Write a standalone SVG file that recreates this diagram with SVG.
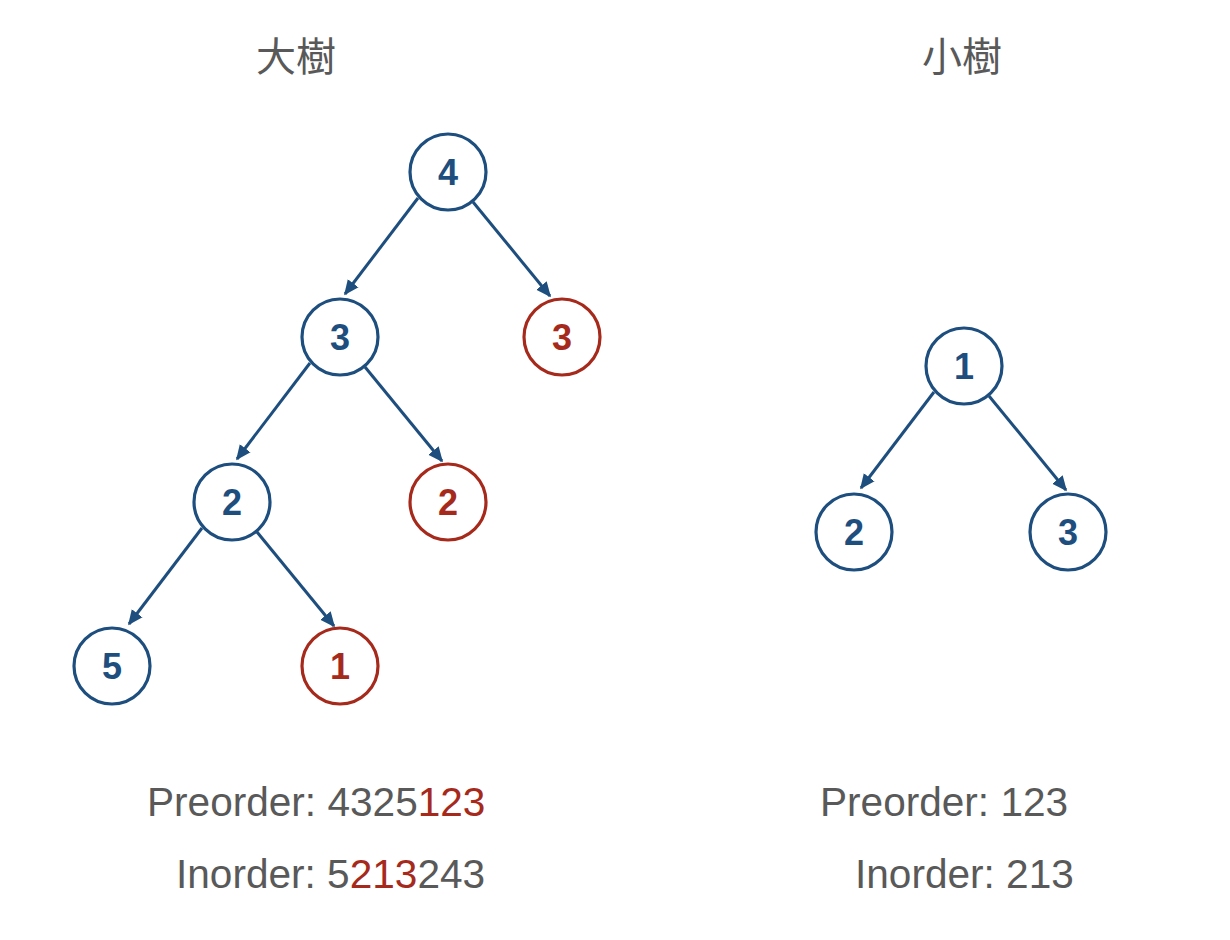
<svg xmlns="http://www.w3.org/2000/svg" width="1230" height="940" viewBox="0 0 1230 940">
<defs>
<marker id="arr" viewBox="0 0 10 10" refX="9" refY="5" markerWidth="5" markerHeight="5" markerUnits="strokeWidth" orient="auto">
<path d="M0,0.5 L10,5 L0,9.5 Z" fill="#1d4e7e"/>
</marker>
<style>
.n circle{fill:#fff;stroke-width:3.2}
.b circle{stroke:#1d4e7e}
.r circle{stroke:#a62a1c}
.n text{font-family:"Liberation Sans",Arial,sans-serif;font-weight:bold;font-size:36px;text-anchor:middle}
.b text{fill:#1d4e7e}
.r text{fill:#a62a1c}
.t{font-family:"Liberation Sans","Noto Sans CJK TC",sans-serif;font-size:40.6px;fill:#595959}
.c{font-family:"Noto Sans CJK TC",sans-serif;font-size:40px;fill:#595959;text-anchor:middle}
.red{fill:#a62a1c}
#edges line{stroke:#1d4e7e;stroke-width:3;marker-end:url(#arr)}
</style>
</defs>
<rect width="1230" height="940" fill="#fff"/>
<text class="c" x="296" y="71">大樹</text>
<text class="c" x="962" y="71">小樹</text>
<g id="edges">
<line x1="418" y1="198" x2="345" y2="294"/>
<line x1="473" y1="202" x2="550" y2="296"/>
<line x1="310" y1="363" x2="237" y2="459"/>
<line x1="365" y1="367" x2="442" y2="461"/>
<line x1="202" y1="528" x2="129" y2="624"/>
<line x1="257" y1="532" x2="334" y2="626"/>
<line x1="934" y1="392" x2="861" y2="488"/>
<line x1="989" y1="396" x2="1066" y2="490"/>
</g>
<g id="n4" class="n b"><circle cx="448" cy="172" r="38"/><text x="448" y="185">4</text></g>
<g id="n3" class="n b"><circle cx="340" cy="337" r="38"/><text x="340" y="350">3</text></g>
<g id="n3r" class="n r"><circle cx="562" cy="337" r="38"/><text x="562" y="350">3</text></g>
<g id="n2" class="n b"><circle cx="232" cy="502" r="38"/><text x="232" y="515">2</text></g>
<g id="n2r" class="n r"><circle cx="448" cy="502" r="38"/><text x="448" y="515">2</text></g>
<g id="n5" class="n b"><circle cx="112" cy="666" r="38"/><text x="112" y="679">5</text></g>
<g id="n1r" class="n r"><circle cx="340" cy="666" r="38"/><text x="340" y="679">1</text></g>
<g id="s1" class="n b"><circle cx="964" cy="366" r="38"/><text x="964" y="379">1</text></g>
<g id="s2" class="n b"><circle cx="854" cy="532" r="38"/><text x="854" y="545">2</text></g>
<g id="s3" class="n b"><circle cx="1068" cy="532" r="38"/><text x="1068" y="545">3</text></g>
<text class="t" x="147" y="816">Preorder: 4325<tspan class="red">123</tspan></text>
<text class="t" x="176" y="888">Inorder: 5<tspan class="red">213</tspan>243</text>
<text class="t" x="820" y="816">Preorder: 123</text>
<text class="t" x="855" y="888">Inorder: 213</text>
</svg>
